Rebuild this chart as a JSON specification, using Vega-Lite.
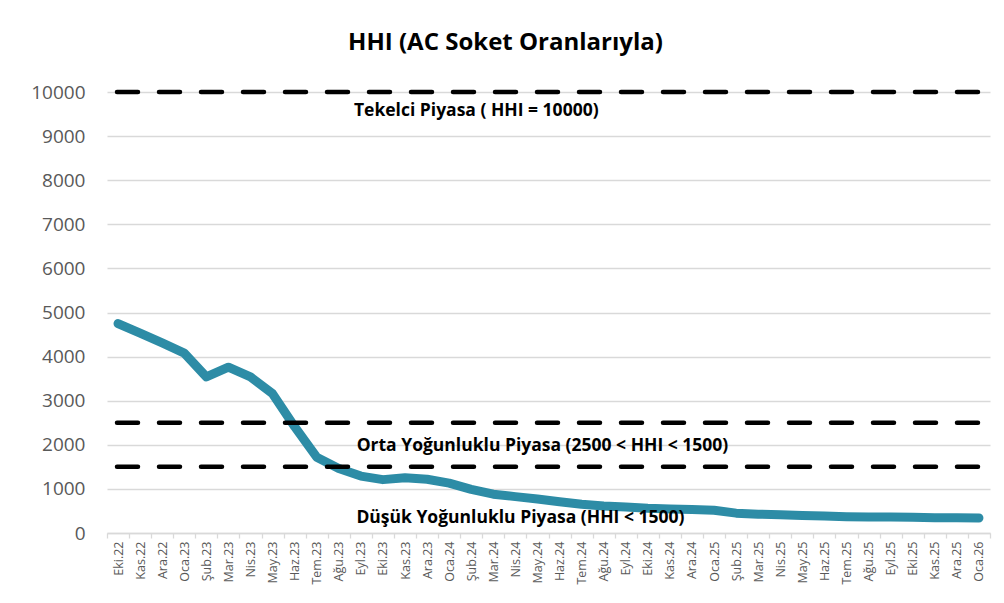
{
  "$schema": "https://vega.github.io/schema/vega-lite/v6.json",
  "autosize": {"type": "none"},
  "width": 883,
  "height": 441,
  "padding": {"left": 107, "top": 92, "right": 14, "bottom": 70},
  "background": "white",
  "title": {"text": "HHI (AC Soket Oranlarıyla)", "font": "Open Sans", "fontSize": 24, "fontWeight": "bold", "color": "#000000", "anchor": "middle", "offset": 28, "dx": -43},
  "config": {"view": {"stroke": null}, "font": "Lato"},
  "datasets": {
    "hhi": [
      {"ay": "Eki.22", "hhi": 4750}, {"ay": "Kas.22", "hhi": 4530}, {"ay": "Ara.22", "hhi": 4310},
      {"ay": "Oca.23", "hhi": 4080}, {"ay": "Şub.23", "hhi": 3540}, {"ay": "Mar.23", "hhi": 3760},
      {"ay": "Nis.23", "hhi": 3540}, {"ay": "May.23", "hhi": 3160}, {"ay": "Haz.23", "hhi": 2410},
      {"ay": "Tem.23", "hhi": 1720}, {"ay": "Ağu.23", "hhi": 1460}, {"ay": "Eyl.23", "hhi": 1290},
      {"ay": "Eki.23", "hhi": 1210}, {"ay": "Kas.23", "hhi": 1255}, {"ay": "Ara.23", "hhi": 1220},
      {"ay": "Oca.24", "hhi": 1130}, {"ay": "Şub.24", "hhi": 990}, {"ay": "Mar.24", "hhi": 880},
      {"ay": "Nis.24", "hhi": 825}, {"ay": "May.24", "hhi": 770}, {"ay": "Haz.24", "hhi": 710},
      {"ay": "Tem.24", "hhi": 650}, {"ay": "Ağu.24", "hhi": 610}, {"ay": "Eyl.24", "hhi": 590},
      {"ay": "Eki.24", "hhi": 560}, {"ay": "Kas.24", "hhi": 545}, {"ay": "Ara.24", "hhi": 535},
      {"ay": "Oca.25", "hhi": 515}, {"ay": "Şub.25", "hhi": 450}, {"ay": "Mar.25", "hhi": 425},
      {"ay": "Nis.25", "hhi": 415}, {"ay": "May.25", "hhi": 395}, {"ay": "Haz.25", "hhi": 385},
      {"ay": "Tem.25", "hhi": 370}, {"ay": "Ağu.25", "hhi": 362}, {"ay": "Eyl.25", "hhi": 360},
      {"ay": "Eki.25", "hhi": 355}, {"ay": "Kas.25", "hhi": 348}, {"ay": "Ara.25", "hhi": 345},
      {"ay": "Oca.26", "hhi": 340}
    ],
    "esikler": [{"y": 10000}, {"y": 2500}, {"y": 1500}],
    "etiketler": [
      {"ay": "Şub.24", "y": 9570, "etiket": "Tekelci Piyasa ( HHI = 10000)"},
      {"ay": "May.24", "y": 1973, "etiket": "Orta Yoğunluklu Piyasa (2500 < HHI < 1500)"},
      {"ay": "Nis.24", "y": 340, "etiket": "Düşük Yoğunluklu Piyasa (HHI < 1500)"}
    ]
  },
  "layer": [
    {
      "data": {"name": "hhi"},
      "mark": {"type": "line", "color": "#2D8CA6", "strokeWidth": 9, "strokeCap": "round", "strokeJoin": "round"},
      "encoding": {
        "x": {
          "field": "ay", "type": "ordinal", "title": null,
          "scale": {"type": "band", "paddingInner": 0, "paddingOuter": 0,
            "domain": ["Eki.22","Kas.22","Ara.22","Oca.23","Şub.23","Mar.23","Nis.23","May.23","Haz.23","Tem.23","Ağu.23","Eyl.23","Eki.23","Kas.23","Ara.23","Oca.24","Şub.24","Mar.24","Nis.24","May.24","Haz.24","Tem.24","Ağu.24","Eyl.24","Eki.24","Kas.24","Ara.24","Oca.25","Şub.25","Mar.25","Nis.25","May.25","Haz.25","Tem.25","Ağu.25","Eyl.25","Eki.25","Kas.25","Ara.25","Oca.26"]},
          "axis": {"labelAngle": -90, "labelFontSize": 12.5, "labelColor": "#595959", "labelFont": "Open Sans",
            "domainColor": "#d9d9d9", "domainWidth": 1.3, "tickColor": "#d9d9d9", "tickWidth": 1.3, "tickSize": 5, "tickBand": "extent",
            "labelPadding": 3, "grid": false}
        },
        "y": {"field": "hhi", "type": "quantitative", "title": null,
          "scale": {"domain": [0, 10000], "nice": false},
          "axis": {"values": [0,1000,2000,3000,4000,5000,6000,7000,8000,9000,10000], "format": "d", "labelFontSize": 19, "labelColor": "#595959", "labelFont": "Open Sans",
            "domain": false, "ticks": false, "labelPadding": 22, "grid": true, "gridColor": "#d9d9d9", "gridWidth": 1.3}
        }
      }
    },
    {
      "data": {"name": "esikler"},
      "mark": {"type": "rule", "color": "#000000", "strokeWidth": 4.5, "strokeDash": [21, 21], "strokeCap": "round", "strokeDashOffset": 30},
      "encoding": {"y": {"field": "y", "type": "quantitative"}}
    },
    {
      "data": {"name": "etiketler"},
      "mark": {"type": "text", "font": "Open Sans", "fontSize": 17.5, "fontWeight": "bold", "color": "#000000", "align": "center", "baseline": "middle", "dx": 5},
      "encoding": {
        "x": {"field": "ay", "type": "ordinal"},
        "y": {"field": "y", "type": "quantitative"},
        "text": {"field": "etiket"}
      }
    }
  ]
}
